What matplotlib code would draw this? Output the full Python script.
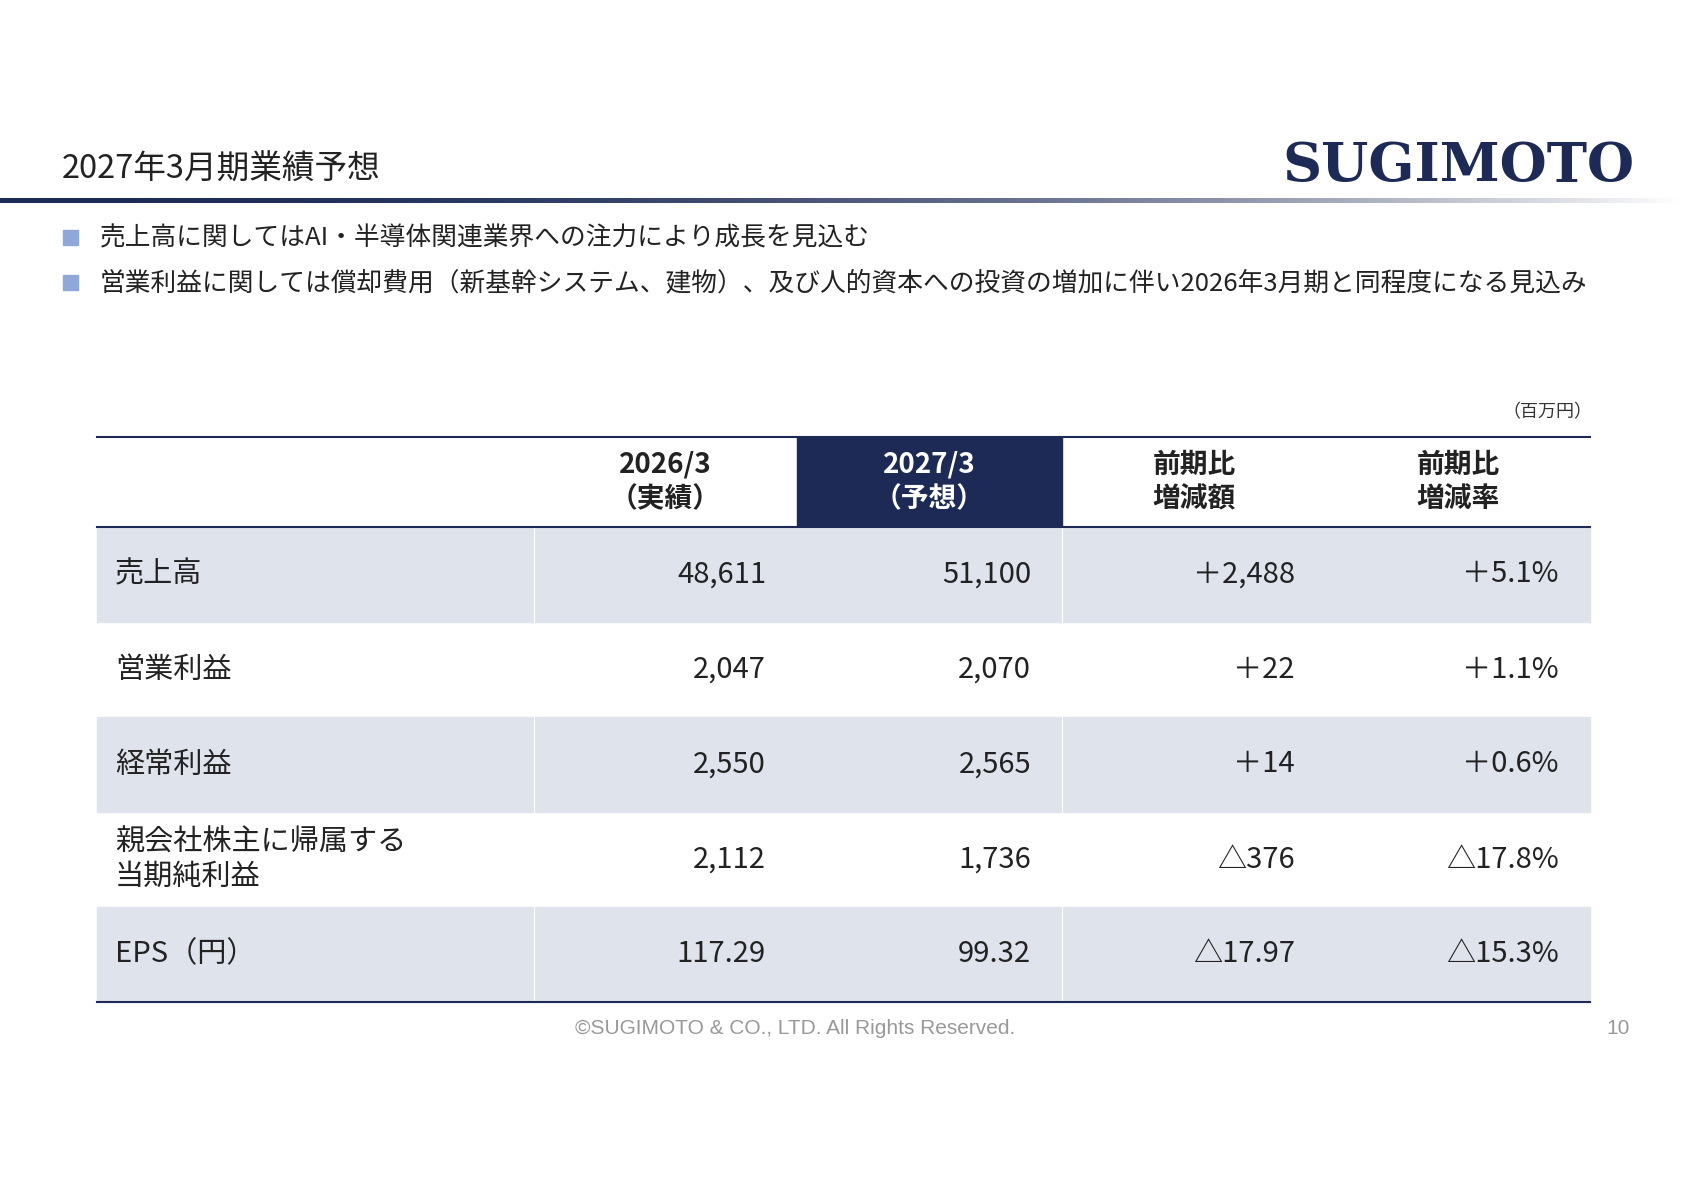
import matplotlib
matplotlib.use("Agg")
import matplotlib.pyplot as plt
import numpy as np
from matplotlib.patches import Rectangle

plt.rcParams['font.family'] = ['Noto Sans CJK JP', 'DejaVu Sans']

title = "2027年3月期業績予想"
bullets = ["売上高に関してはAI・半導体関連業界への注力により成長を見込む",
           "営業利益に関しては償却費用（新基幹システム、建物）、及び人的資本への投資の増加に伴い2026年3月期と同程度になる見込み"]
unit = "（百万円）"
headers = ["2026/3\n（実績）", "2027/3\n（予想）", "前期比\n増減額", "前期比\n増減率"]
row_labels = ["売上高", "営業利益", "経常利益", "親会社株主に帰属する\n当期純利益", "EPS（円）"]
actual_2026 = ["48,611", "2,047", "2,550", "2,112", "117.29"]
forecast_2027 = ["51,100", "2,070", "2,565", "1,736", "99.32"]
diff_amount = ["＋2,488", "＋22", "＋14", "△376", "△17.97"]
diff_rate = ["＋5.1%", "＋1.1%", "＋0.6%", "△17.8%", "△15.3%"]

W, H = 1684, 1190
fig = plt.figure(figsize=(W/100, H/100), dpi=100)
ax = fig.add_axes([0, 0, 1, 1])
ax.set_xlim(0, W); ax.set_ylim(H, 0); ax.axis('off')

navy = "#1c2a55"
ax.text(62, 170, title, fontsize=23.5, va='center', color='#222222')
ax.text(1635, 167, "SUGIMOTO", fontsize=39, fontweight='bold', family='DejaVu Serif',
        color=navy, ha='right', va='center')
grad = np.linspace(0, 1, 512)
img = np.zeros((1, 512, 4))
img[0, :, :3] = [0x1c/255, 0x2a/255, 0x55/255]
img[0, :, 3] = np.clip(1 - grad**2.2, 0, 1)
ax.imshow(img, extent=[0, 1684, 203, 198], aspect='auto', interpolation='bilinear')

for i, b in enumerate(bullets):
    y = 238 + 45*i
    ax.add_patch(Rectangle((63, y-8), 15, 15, color='#8fa8d8'))
    ax.text(100, y, b, fontsize=18.5, va='center', color='#222222')

ax.text(1592, 412, unit, fontsize=13, ha='right', va='center', color='#333333')

xs = [97, 534, 797, 1062, 1326, 1590]
top, hbot = 437, 527
rh = 95
shade = "#dfe3ec"
ax.add_patch(Rectangle((xs[2], top), xs[3]-xs[2], hbot-top, color=navy))
for i, h in enumerate(headers):
    cx = (xs[i+1]+xs[i+2])/2
    ax.text(cx, (top+hbot)/2, h, fontsize=20, fontweight='bold', ha='center', va='center',
            color='white' if i == 1 else '#222222', linespacing=1.3)
for r in range(len(row_labels)):
    y0 = hbot + r*rh
    if r % 2 == 0:
        ax.add_patch(Rectangle((xs[0], y0), xs[-1]-xs[0], rh, color=shade))
        for xv in (xs[1], xs[3]):
            ax.plot([xv, xv], [y0, y0+rh], color='white', lw=0.8)
    yc = y0 + rh/2
    ax.text(115, yc, row_labels[r], fontsize=21, va='center', color='#222222', linespacing=1.2)
    for j, arr in enumerate([actual_2026, forecast_2027, diff_amount, diff_rate]):
        xr = xs[j+2] - 31
        ax.text(xr, yc, arr[r], fontsize=21, ha='right', va='center', color='#222222')
bot = hbot + rh*len(row_labels)
ax.plot([xs[0], xs[-1]], [top, top], color=navy, lw=1.5)
ax.plot([xs[0], xs[-1]], [hbot, hbot], color=navy, lw=1.5)
ax.plot([xs[0], xs[-1]], [bot, bot], color=navy, lw=1.5)

ax.text(795, 1029, "©SUGIMOTO & CO., LTD. All Rights Reserved.", fontsize=15, ha='center',
        va='center', color='#999999', family='Liberation Sans')
ax.text(1630, 1029, "10", fontsize=15, ha='right', va='center', color='#999999', family='Liberation Sans')

fig.savefig("out.png", dpi=100)
